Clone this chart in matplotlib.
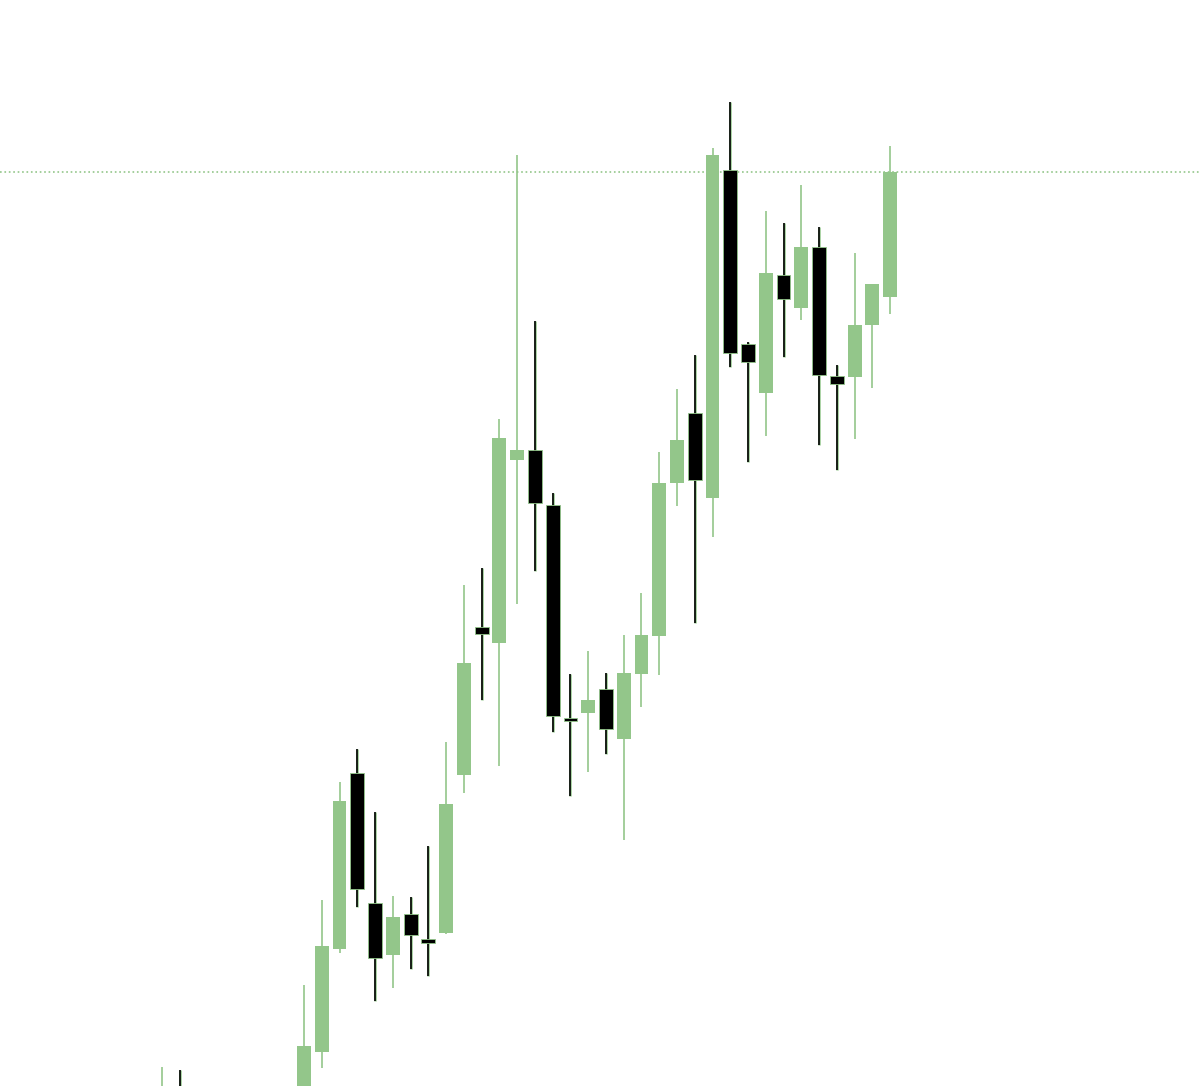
import matplotlib
matplotlib.use("Agg")
import matplotlib.pyplot as plt

# ローソク足データ (始値, 高値, 安値, 終値)
opens = [-60, -5, -110, -150, -190, -170, -120, -80, -30, 34, 137, 313, 183, 131, 172, 147,
         153, 311, 459, 443, 626, 636, 581, 368, 373, 397, 347, 412, 450, 603, 673, 588,
         916, 742, 693, 811, 778, 839, 710, 709, 761, 789]
highs = [19, 16, -80, -120, -150, -120, -70, -20, 101, 186, 304, 337, 274, 190, 189, 240,
         344, 501, 518, 667, 931, 765, 593, 412, 435, 413, 451, 493, 634, 697, 731, 938,
         984, 744, 875, 863, 901, 859, 721, 833, 802, 940]
lows = [-80, -90, -160, -200, -230, -200, -140, -100, -45, 18, 133, 179, 85, 98, 117, 110,
        152, 293, 386, 320, 482, 515, 354, 290, 314, 332, 246, 379, 411, 580, 463, 549,
        719, 624, 650, 729, 766, 641, 616, 647, 698, 772]
closes = [-10, -70, -140, -180, -160, -130, -90, -40, 40, 140, 285, 197, 128, 169, 151, 143,
          282, 423, 452, 648, 636, 583, 370, 365, 386, 357, 413, 451, 603, 646, 606, 931,
          733, 724, 813, 787, 839, 711, 702, 761, 802, 914]

up_color = '#93c68a'
down_color = '#000000'
width = 0.78

fig = plt.figure(figsize=(12, 10.86), dpi=100)
ax = fig.add_axes([0, 0, 1, 1])

for i in range(len(opens)):
    o, h, l, c = opens[i], highs[i], lows[i], closes[i]
    if c >= o:
        ax.vlines(i, l, h, color=up_color, linewidth=1.2, zorder=1)
        ax.bar(i, max(c - o, 3), width, bottom=o, color=up_color, linewidth=0, zorder=2)
    else:
        ax.vlines(i, l, h, color=up_color, linewidth=1.8, zorder=1)
        ax.vlines(i, l, h, color=down_color, linewidth=1.2, zorder=1)
        ax.bar(i, max(o - c, 3), width, bottom=c, color=down_color,
               edgecolor=up_color, linewidth=0.6, zorder=2)

# 最終価格ライン
ax.axhline(closes[-1], color=up_color, linestyle=':', linewidth=1.2, zorder=0)

ax.set_xlim(-9.12, 58.45)
ax.set_ylim(0, 1086)
ax.axis('off')

fig.savefig('out.png', dpi=100, facecolor='white')
